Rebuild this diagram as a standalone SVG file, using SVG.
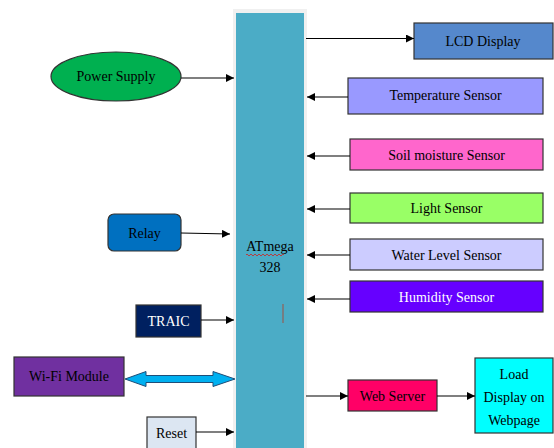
<svg xmlns="http://www.w3.org/2000/svg" width="554" height="448" viewBox="0 0 554 448">
<defs>
<marker id="ah" viewBox="0 0 10 10" refX="10" refY="5" markerWidth="8" markerHeight="8" markerUnits="userSpaceOnUse" orient="auto">
<path d="M0,0 L10,5 L0,10 Z" fill="#000"/>
</marker>
</defs>
<style>
text{font-family:"Liberation Serif","Times New Roman",serif;font-size:14px;text-anchor:middle;fill:#000}
.box{stroke:#333;stroke-width:1.2}
.w{fill:#fff}
.c line{stroke:#000;stroke-width:1.1;marker-end:url(#ah)}
</style>
<rect x="0" y="0" width="554" height="448" fill="#fff"/>
<g id="atmega">
<rect x="233" y="9" width="74" height="445" fill="#f0f0f0"/>
<rect x="236" y="13" width="68" height="440" fill="#4BACC6"/>
<text x="270" y="251">ATmega</text>
<text x="270" y="272">328</text>
<path d="M246,255 q1,-2 2,0 t2,0 t2,0 t2,0 t2,0 t2,0 t2,0 t2,0 t2,0 t2,0 t2,0 t2,0 t2,0 t2,0 t2,0 t2,0 t2,0 t2,0 t2,0" fill="none" stroke="#d02020" stroke-width="0.8"/>
<line x1="283" y1="304" x2="283" y2="323" stroke="#a05040" stroke-width="1"/>
</g>
<g id="power">
<ellipse cx="116" cy="76.5" rx="65" ry="24.5" fill="#00B050" class="box"/>
<text x="116" y="81">Power Supply</text>
</g>
<g id="lcd">
<rect x="414" y="23" width="139" height="36" fill="#5588CC" class="box"/>
<text x="483" y="46">LCD Display</text>
</g>
<g id="temp">
<rect x="348" y="78" width="195" height="36" fill="#9999FF" class="box"/>
<text x="445.5" y="100">Temperature Sensor</text>
</g>
<g id="soil">
<rect x="350" y="139" width="193" height="31" fill="#FF66CC" class="box"/>
<text x="446.5" y="160">Soil moisture Sensor</text>
</g>
<g id="light">
<rect x="350" y="193" width="193" height="30" fill="#99FF66" class="box"/>
<text x="446.5" y="213">Light Sensor</text>
</g>
<g id="water">
<rect x="350" y="239" width="193" height="31" fill="#CCCCFF" class="box"/>
<text x="446.5" y="260">Water Level Sensor</text>
</g>
<g id="humidity">
<rect x="350" y="281" width="193" height="31" fill="#6600FF" class="box"/>
<text x="446.5" y="302" class="w">Humidity Sensor</text>
</g>
<g id="relay">
<rect x="108" y="214" width="73" height="37" rx="6" fill="#0070C0" class="box"/>
<text x="144.5" y="238">Relay</text>
</g>
<g id="traic">
<rect x="136" y="305" width="65" height="32" fill="#002060" class="box"/>
<text x="168.5" y="326" class="w">TRAIC</text>
</g>
<g id="wifi">
<rect x="14" y="357" width="110" height="39" fill="#7030A0" class="box"/>
<text x="69" y="381">Wi-Fi Module</text>
</g>
<g id="reset">
<rect x="147" y="417" width="49" height="36" fill="#DCE6F2" class="box"/>
<text x="171.5" y="438">Reset</text>
</g>
<g id="webserver">
<rect x="348" y="380" width="89" height="31" fill="#FF0066" class="box"/>
<text x="392.5" y="401">Web Server</text>
</g>
<g id="load">
<rect x="475" y="358" width="78" height="75" fill="#00FFFF" class="box"/>
<text x="514" y="379">Load</text>
<text x="514" y="402">Display on</text>
<text x="514" y="425">Webpage</text>
</g>
<g id="connectors" class="c">
<line x1="181" y1="78" x2="234" y2="78"/>
<line x1="306" y1="38.5" x2="414" y2="38.5"/>
<line x1="348" y1="97" x2="307" y2="97"/>
<line x1="350" y1="156" x2="307" y2="156"/>
<line x1="350" y1="209" x2="307" y2="209"/>
<line x1="350" y1="255" x2="307" y2="255"/>
<line x1="350" y1="299" x2="307" y2="299"/>
<line x1="181" y1="233" x2="230" y2="234"/>
<line x1="201" y1="320" x2="234" y2="320"/>
<line x1="196" y1="432" x2="234" y2="432"/>
<line x1="306" y1="396" x2="348" y2="396"/>
<line x1="437" y1="396" x2="475" y2="396"/>
<path d="M125,379 L146,371.5 L146,375.5 L213,375.5 L213,371.5 L235,379 L213,386.5 L213,382.5 L146,382.5 L146,386.5 Z" fill="#00B0F0" stroke="#1F4E79" stroke-width="1"/>
</g>
</svg>
